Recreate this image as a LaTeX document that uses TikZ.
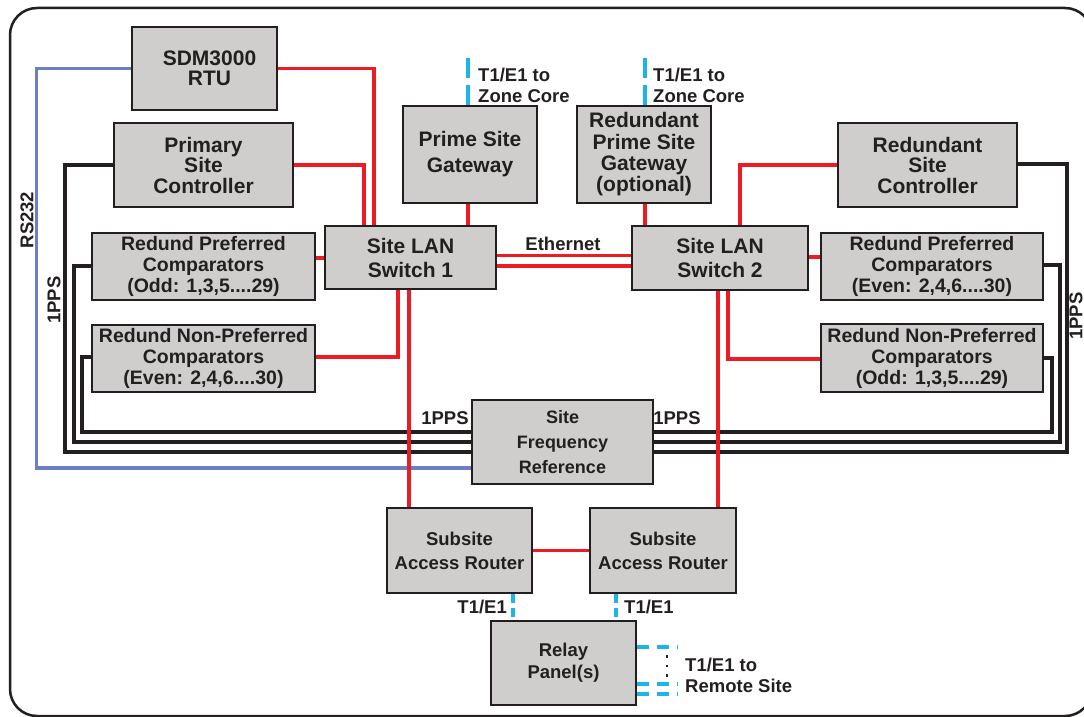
\documentclass[tikz,border=0pt]{standalone}
\usepackage{fontspec}
\setmainfont{Liberation Sans}
\usetikzlibrary{calc}
\definecolor{boxgray}{HTML}{CFCECD}
\definecolor{dk}{HTML}{231F20}
\definecolor{redc}{HTML}{ED1C24}
\definecolor{bluec}{HTML}{6C7FC4}
\definecolor{cyanc}{HTML}{1CB5EA}
\begin{document}
\begin{tikzpicture}[x=1pt,y=-1pt,
  box/.style={draw=dk, fill=boxgray, line width=2.8pt, inner sep=0pt, align=center, text=dk, font=\bfseries\fontsize{21}{20.5}\selectfont},
  gbox/.style={box, font=\bfseries\fontsize{21}{26}\selectfont},
  rgbox/.style={box, font=\bfseries\fontsize{21}{21.3}\selectfont},
  swbox/.style={box, font=\bfseries\fontsize{21}{24}\selectfont},
  cbox/.style={box, font=\bfseries\fontsize{19.5}{21}\selectfont},
  sbox/.style={box, font=\bfseries\fontsize{18.5}{24}\selectfont},
  fbox/.style={box, font=\bfseries\fontsize{18}{25}\selectfont},
  rbox/.style={box, font=\bfseries\fontsize{18.5}{22}\selectfont},
  lbl/.style={text=dk, inner sep=0pt, align=left, font=\bfseries\fontsize{18.5}{21}\selectfont},
  redl/.style={draw=redc, line width=3.6pt},
  blkl/.style={draw=dk, line width=4pt, line join=miter},
  bluel/.style={draw=bluec, line width=3.6pt, line join=miter},
  cyl/.style={draw=cyanc, line width=4pt},
]
\useasboundingbox (0,0) rectangle (1084,717);
\clip (0,0) rectangle (1084,717);
\draw[dk, line width=2.5pt, rounded corners=27pt] (10,8) rectangle (1092,716);

% boxes
\node[box, minimum width=145, minimum height=83] (rtu) at (204.5,68.5) {\hspace*{10pt}SDM3000\\\hspace*{10pt}RTU};
\node[box, minimum width=179, minimum height=84] (psc) at (203.5,165) {Primary\\Site\\Controller};
\node[gbox, minimum width=134, minimum height=97] (psg) at (470,154.5) {Prime Site\\Gateway};
\node[rgbox, minimum width=134, minimum height=97] (rpsg) at (644,154.5) {Redundant\\Prime Site\\Gateway\\(optional)};
\node[box, minimum width=179, minimum height=84] (rsc) at (927.5,165) {Redundant\\Site\\Controller};
\node[swbox, minimum width=171, minimum height=63] (sw1) at (410.5,257.5) {Site LAN\\Switch 1};
\node[swbox, minimum width=176, minimum height=64] (sw2) at (720,258) {Site LAN\\Switch 2};
\node[cbox, minimum width=223, minimum height=67] (lpc) at (203.5,266.5) {Redund Preferred\\Comparators\\(Odd: 1,3,5....29)};
\node[cbox, minimum width=223, minimum height=67] (lnc) at (203.5,358.5) {Redund Non-Preferred\\Comparators\\(Even: 2,4,6....30)};
\node[cbox, minimum width=222, minimum height=67] (rpc) at (932,266.5) {Redund Preferred\\Comparators\\(Even: 2,4,6....30)};
\node[cbox, minimum width=222, minimum height=68] (rnc) at (932,358) {Redund Non-Preferred\\Comparators\\(Odd: 1,3,5....29)};
\node[fbox, minimum width=181, minimum height=84] (sfr) at (562.5,442) {Site\\Frequency\\Reference};
\node[sbox, minimum width=145, minimum height=85] (ar1) at (459.5,550.5) {Subsite\\Access Router};
\node[sbox, minimum width=146, minimum height=85] (ar2) at (663,550.5) {Subsite\\Access Router};
\node[rbox, minimum width=145, minimum height=84] (relay) at (563.5,663) {Relay\\Panel(s)};

% black 1PPS lines
\draw[blkl] (psc.west) -- ++(-48,0) |- ([yshift=-10]sfr.west);
\draw[blkl] ([yshift=0.5]lpc.west) -- ++(-17,0) |- (sfr.west);
\draw[blkl] ([yshift=1.5]lnc.west) -- ++(-9,0) |- ([yshift=10]sfr.west);
\draw[blkl] ([yshift=1.5]rsc.east) -- ++(49,0) |- ([yshift=-10]sfr.east);
\draw[blkl] ([yshift=1.5]rpc.east) -- ++(16,0) |- (sfr.east);
\draw[blkl] (rnc.east) -- ++(8,0) |- ([yshift=10]sfr.east);
% blue RS232
\draw[bluel] (rtu.west) -- ++(-94,0) |- ([yshift=-26]sfr.west);

% red lines
\draw[redl] (rtu.east) -| ([xshift=-36.5]sw1.north);
\draw[redl] (psc.east) -| ([xshift=-46.5]sw1.north);
\draw[redl] ([xshift=-2]psg.south) -- ([xshift=-2]psg.south |- sw1.north);
\draw[redl] ([xshift=1]rpsg.south) -- ([xshift=1]rpsg.south |- sw2.north);
\draw[redl] (rsc.west) -| ([xshift=20]sw2.north);
\draw[redl] ([yshift=8.5]lpc.east) -- ([yshift=8.5]lpc.east -| sw1.west);
\draw[redl] ([yshift=1]sw2.east) -- ([yshift=1]sw2.east -| rpc.west);
\draw[redl] ([yshift=1.5]lnc.east) -| ([xshift=-12.5]sw1.south);
\draw[redl] ([xshift=-1.5]sw1.south) -- ([xshift=-1.5]sw1.south |- ar1.north);
\draw[redl] ([xshift=8]sw2.south) |- ([yshift=-1]rnc.west);
\draw[redl] ([xshift=-2]sw2.south) -- ([xshift=-2]sw2.south |- ar2.north);
\draw[redl] (ar1.east) -- (ar2.west);
\draw[redl] ([yshift=2]sw1.east) -- ([yshift=2]sw1.east -| sw2.west);
\draw[redl] ([yshift=-8.5]sw1.east) -- ([yshift=-8.5]sw1.east -| sw2.west);

% cyan T1/E1 lines
\coordinate (zc1) at ([xshift=-2,yshift=47]psg.north);
\coordinate (zc2) at ([xshift=1,yshift=47]rpsg.north);
\draw[cyl, dash pattern=on 20pt off 7pt] ([xshift=-2]psg.north) -- (zc1);
\draw[cyl, dash pattern=on 20pt off 7pt] ([xshift=1]rpsg.north) -- (zc2);
\draw[cyl, dash pattern=on 9pt off 5pt] ([xshift=53.5]ar1.south) -- ([xshift=53.5]ar1.south |- relay.north);
\draw[cyl, dash pattern=on 9pt off 5pt] ([xshift=-47]ar2.south) -- ([xshift=-47]ar2.south |- relay.north);
\coordinate (rs1) at ([xshift=41,yshift=16]relay.east);
\coordinate (rs2) at ([xshift=41,yshift=-21]relay.east);
\coordinate (rs3) at ([xshift=41,yshift=-31]relay.east);
\draw[cyl, dash pattern=on 12pt off 8pt] ([yshift=16]relay.east) -- (rs1);
\draw[cyl, dash pattern=on 12pt off 8pt] ([yshift=-21]relay.east) -- (rs2);
\draw[cyl, dash pattern=on 12pt off 8pt] ([yshift=-31]relay.east) -- (rs3);
\coordinate (dt1) at (667,655);
\coordinate (dt2) at (667,678);
\draw[dk, line width=2.6pt, dash pattern=on 2.6pt off 7pt] (dt1) -- (dt2);

% labels
\node[lbl, anchor=west] (zl1) at (478,85) {T1/E1 to\\Zone Core};
\node[lbl, anchor=west] (zl2) at (653,85) {T1/E1 to\\Zone Core};
\node[lbl] (eth) at (563,243.5) {Ethernet};
\node[lbl, rotate=90] (rs232) at (27,220) {RS232};
\node[lbl, rotate=90] (pps1) at (54,300) {1PPS};
\node[lbl, rotate=90] (pps2) at (1076,316) {1PPS};
\node[lbl] (pps3) at (445,418) {1PPS};
\node[lbl] (pps4) at (677,418.5) {1PPS};
\node[lbl, anchor=east] (t1a) at (507,607) {T1/E1};
\node[lbl, anchor=west] (t1b) at (624,607) {T1/E1};
\node[lbl, anchor=west] (rsl) at (685,675) {T1/E1 to\\Remote Site};
\end{tikzpicture}
\end{document}
